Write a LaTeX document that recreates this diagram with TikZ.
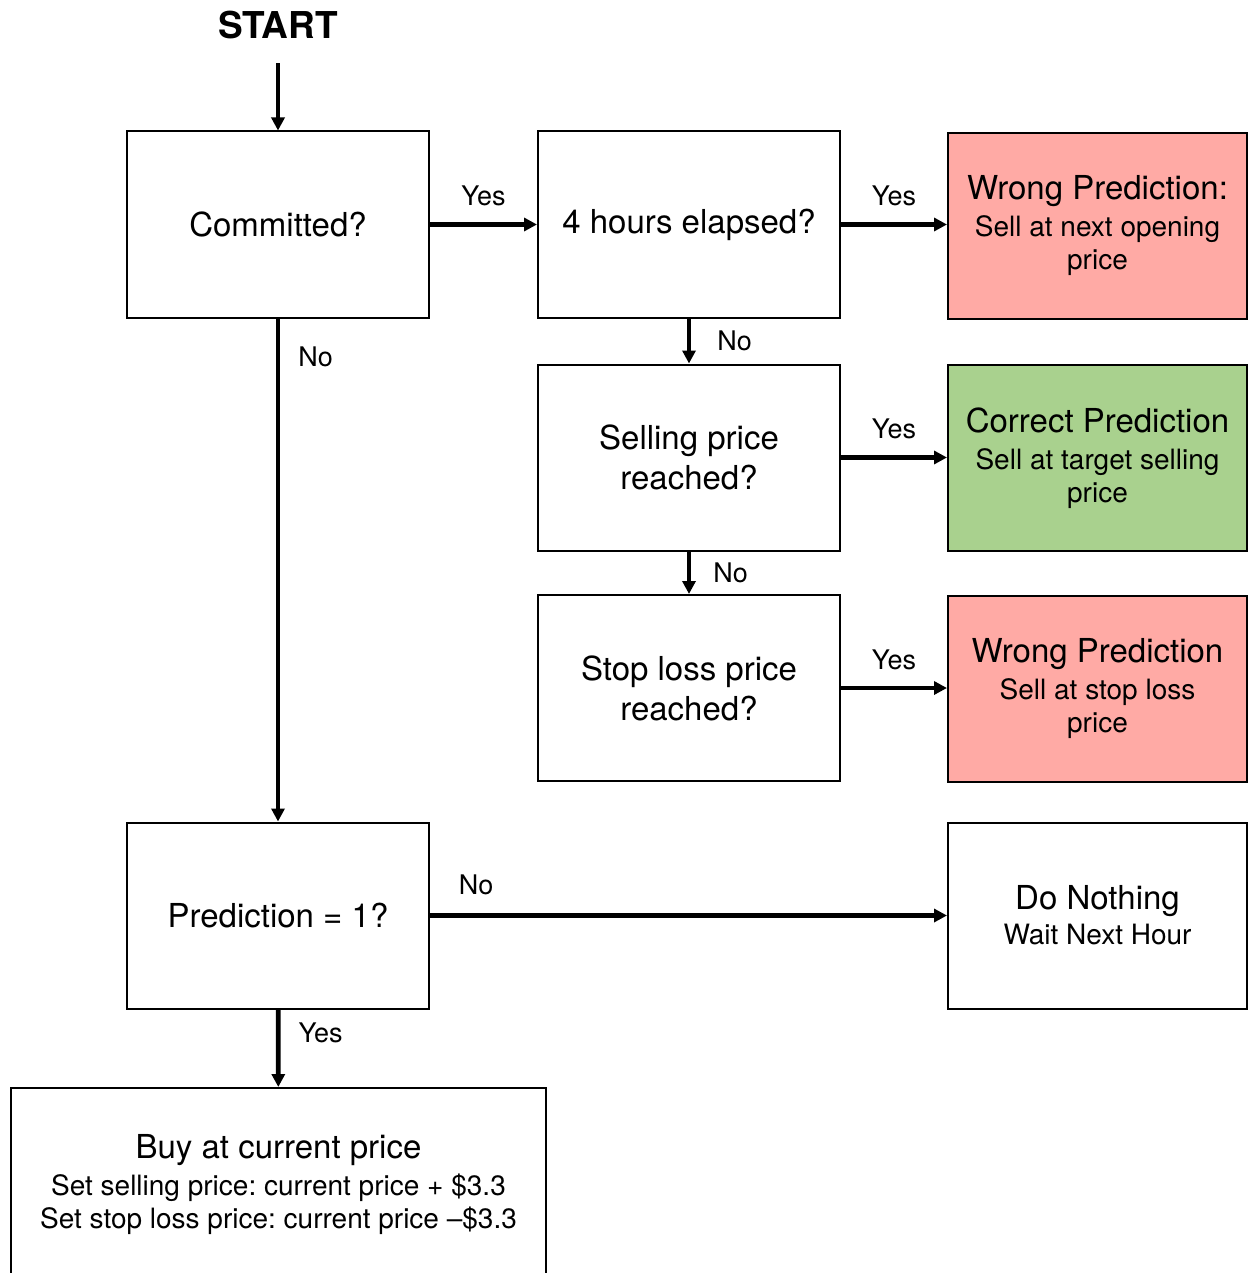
\documentclass[tikz,border=0pt]{standalone}
\usepackage{fontspec}
\setmainfont{TeX Gyre Heros}
\usetikzlibrary{arrows.meta}
\frenchspacing
\definecolor{wrongred}{RGB}{255,170,165}
\definecolor{rightgreen}{RGB}{169,209,142}
\tikzset{
  box/.style={draw=black, line width=1pt, minimum width=151pt, minimum height=93pt,
    inner sep=0pt, align=center, font=\fontsize{16.5}{20}\selectfont},
  outbox/.style={box, minimum width=149.5pt, minimum height=93pt, font=\fontsize{14}{16.5}\selectfont},
  flow/.style={line width=2.4pt, -{Triangle[length=6.5pt,width=6.5pt]}},
  lbl/.style={font=\fontsize{13.5}{16}\selectfont, inner sep=0pt},
}
\newcommand{\ttlline}[1]{{\fontsize{16.5}{20}\selectfont #1}}
\begin{document}
\begin{tikzpicture}[x=0.5pt,y=-0.5pt]
\useasboundingbox (0,0) rectangle (1248,1273);
\node[font=\bfseries\fontsize{18.5}{22}\selectfont, inner sep=0pt] (start) at (278,25) {START};
\node[box] (comm) at (278,224.5) {Committed?};
\node[box] (four) at (689,224.5) {4 hours elapsed?};
\node[outbox, fill=wrongred] (wrong1) at (1097.5,226) {\ttlline{Wrong Prediction:}\\[2pt]Sell at next opening\\price};
\node[box] (sell) at (689,457.5) {Selling price\\reached?};
\node[outbox, fill=rightgreen] (correct) at (1097.5,458) {\ttlline{Correct Prediction}\\[2pt]Sell at target selling\\price};
\node[box] (stop) at (689,688) {Stop loss price\\reached?};
\node[outbox, fill=wrongred] (wrong2) at (1097.5,688.5) {\ttlline{Wrong Prediction}\\[2pt]Sell at stop loss\\price};
\node[box] (pred) at (278,915.5) {Prediction = 1?};
\node[outbox] (nothing) at (1097.5,915.5) {\ttlline{Do Nothing}\\[1pt]Wait Next Hour};
\node[outbox, minimum width=267.5pt, minimum height=97pt] (buy) at (278.5,1185) {\ttlline{Buy at current price}\\[2pt]Set selling price: current price + \$3.3\\Set stop loss price: current price –\$3.3};

\draw[flow] ([yshift=-12pt]start.south) -- (comm.north);
\draw[flow] (comm) -- node[lbl, above=8pt] {Yes} (four);
\draw[flow] (four) -- node[lbl, above=8pt] {Yes} (wrong1.west |- four);
\draw[flow] (four) -- node[lbl, right=13pt] {No} (sell);
\draw[flow] (sell) -- node[lbl, above=8pt] {Yes} (correct.west |- sell);
\draw[flow] (sell) -- node[lbl, right=11pt] {No} (stop);
\draw[flow] (stop) -- node[lbl, above=8pt] {Yes} (wrong2.west |- stop);
\draw[flow] (comm) -- node[lbl, right=9pt, pos=0.077] {No} (pred);
\draw[flow] (pred) -- node[lbl, above=9pt, pos=0.089] {No} (nothing);
\draw[flow] (pred) -- node[lbl, right=9pt, pos=0.3] {Yes} (buy);
\end{tikzpicture}
\end{document}
